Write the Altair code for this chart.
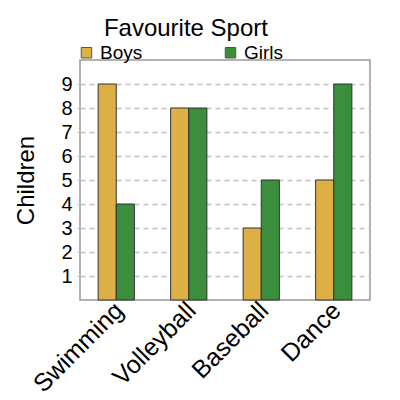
import altair as alt
import pandas as pd

sports = ["Swimming", "Volleyball", "Baseball", "Dance"]
boys = [9, 8, 3, 5]
girls = [4, 8, 5, 9]
groups = ["Boys", "Girls"]
colors = ["#ddb046", "#3b8e3b"]
y_ticks = [1, 2, 3, 4, 5, 6, 7, 8, 9]

rows = []
for s, b, g in zip(sports, boys, girls):
    rows.append({"Sport": s, "Group": "Boys", "Children": b})
    rows.append({"Sport": s, "Group": "Girls", "Children": g})
df = pd.DataFrame(rows)

font = "Liberation Sans"

chart = alt.Chart(df).mark_bar(stroke="#333333", strokeWidth=1).encode(
    x=alt.X("Sport:N", sort=sports, title=None,
            scale=alt.Scale(paddingInner=0.5, paddingOuter=0.25),
            axis=alt.Axis(labelAngle=-45, labelAlign="right", labelBaseline="middle",
                          labelFontSize=25, labelColor="black", ticks=False,
                          domain=False, labelPadding=6, labelOffset=3, labelFont=font)),
    xOffset=alt.XOffset("Group:N", sort=groups, scale=alt.Scale(paddingInner=0, paddingOuter=0)),
    y=alt.Y("Children:Q", title="Children",
            scale=alt.Scale(domain=[0, 10], nice=False),
            axis=alt.Axis(values=y_ticks, gridDash=[5, 4], gridColor="#c0c0c0", gridWidth=1.5,
                          tickColor="#c0c0c0", tickDash=[3, 2], tickSize=5,
                          domain=False, labelFontSize=20, labelColor="black",
                          titleFontSize=24, titleFontWeight="normal", titleColor="black",
                          titlePadding=22, labelPadding=3, labelFont=font, titleFont=font)),
    color=alt.Color("Group:N", sort=groups,
                    scale=alt.Scale(domain=groups, range=colors),
                    legend=alt.Legend(title=None, orient="none", legendX=-3, legendY=-17,
                                      direction="horizontal", columns=2, columnPadding=78,
                                      symbolType="square", symbolSize=110,
                                      symbolStrokeColor="#555555", symbolStrokeWidth=1,
                                      labelFontSize=19, labelColor="black", labelFont=font,
                                      labelOffset=4)),
).properties(
    width=290,
    height=240,
    title=alt.TitleParams("Favourite Sport", anchor="start", dx=89, offset=2,
                          fontSize=24, fontWeight="normal", font=font, color="black"),
    autosize=alt.AutoSizeParams(type="none"),
    padding={"left": 72, "top": 52, "right": 22, "bottom": 92},
).configure_view(
    stroke="#999999", strokeWidth=1.5
)

chart.save("out.html", embed_options={"renderer": "svg", "actions": False})
